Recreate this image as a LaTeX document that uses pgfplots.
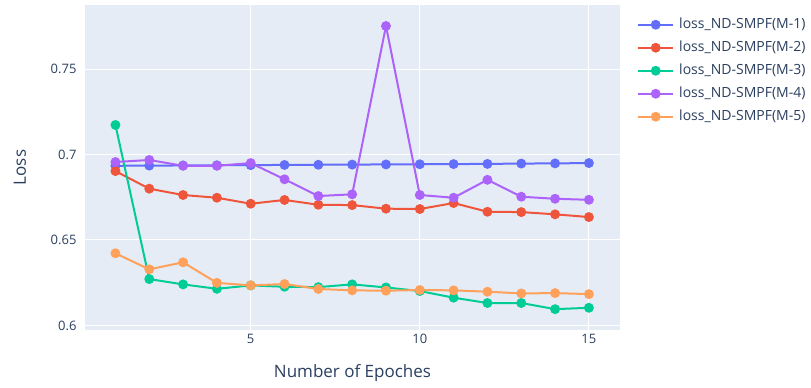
\documentclass[border=0pt]{standalone}
\usepackage{fontspec}
\setmainfont{Open Sans}
\usepackage{pgfplots}
\pgfplotsset{compat=1.18}

\definecolor{bgpanel}{HTML}{E5ECF6}
\definecolor{txt}{HTML}{2A3F5F}
\definecolor{cA}{HTML}{636EFA}
\definecolor{cB}{HTML}{EF553B}
\definecolor{cC}{HTML}{00CC96}
\definecolor{cD}{HTML}{AB63FA}
\definecolor{cE}{HTML}{FFA15A}

\pgfplotsset{
  lossline/.style={line width=2pt, mark=*, mark size=3.9pt, mark options={draw=none, fill=#1}, color=#1},
}

\begin{document}
\begin{tikzpicture}[x=1pt,y=1pt]
\path[use as bounding box] (0,0) rectangle (811,388);
\begin{axis}[
  at={(85pt,58pt)}, anchor=south west,
  width=535pt, height=325pt, scale only axis,
  xmin=0.1, xmax=15.92, ymin=0.5973, ymax=0.7875,
  axis background/.style={fill=bgpanel},
  axis line style={draw=none},
  tick style={draw=none},
  grid=major,
  major grid style={white, line width=1pt},
  xtick={5,10,15},
  ytick={0.6,0.65,0.7,0.75},
  yticklabels={0.6,0.65,0.7,0.75},
  /pgf/number format/assume math mode=true,
  ticklabel style={font=\fontsize{13}{15}\selectfont, text=txt},
  yticklabel style={xshift=-5pt},
  xticklabel style={yshift=-1pt},
  xlabel={Number of Epoches},
  ylabel={Loss},
  label style={font=\fontsize{17}{19}\selectfont, text=txt},
  xlabel style={at={(axis description cs:0.5,0)}, anchor=center, yshift=-43pt},
  ylabel style={at={(axis description cs:-0.1215,0.5)}, anchor=center},
  legend cell align=left,
  legend style={
    at={(axis description cs:1.0318,0.966)}, anchor=north west,
    draw=none, fill=none, inner sep=0pt,
    font=\fontsize{14}{16}\selectfont, text=txt,
    nodes={text height=10pt, text depth=3pt, inner ysep=2pt, inner xsep=2pt},
    row sep=6pt,
    /tikz/every odd column/.append style={column sep=3pt},
    /tikz/every even column/.append style={column sep=0pt},
  },
  legend image code/.code={
    \draw[line width=2pt] (0pt,0pt) -- (35pt,0pt);
    \fill (17.5pt,0pt) circle (3.9pt);
  },
]
\addplot[lossline=cA] coordinates {
  (1,0.6934) (2,0.6935) (3,0.6936) (4,0.6937) (5,0.6938) (6,0.6939) (7,0.6940)
  (8,0.6941) (9,0.6942) (10,0.6943) (11,0.6944) (12,0.6945) (13,0.6947) (14,0.6948) (15,0.6950)
};
\addlegendentry{loss\_ND-SMPF(M-1)}
\addplot[lossline=cB] coordinates {
  (1,0.6903) (2,0.6800) (3,0.6763) (4,0.6747) (5,0.6712) (6,0.6734) (7,0.6706)
  (8,0.6704) (9,0.6683) (10,0.6681) (11,0.6716) (12,0.6665) (13,0.6663) (14,0.6650) (15,0.6634)
};
\addlegendentry{loss\_ND-SMPF(M-2)}
\addplot[lossline=cC] coordinates {
  (1,0.7173) (2,0.6271) (3,0.6240) (4,0.6214) (5,0.6234) (6,0.6226) (7,0.6224)
  (8,0.6240) (9,0.6222) (10,0.6201) (11,0.6162) (12,0.6131) (13,0.6131) (14,0.6095) (15,0.6103)
};
\addlegendentry{loss\_ND-SMPF(M-3)}
\addplot[lossline=cD] coordinates {
  (1,0.6956) (2,0.6968) (3,0.6934) (4,0.6934) (5,0.6950) (6,0.6855) (7,0.6757)
  (8,0.6767) (9,0.7752) (10,0.6763) (11,0.6747) (12,0.6852) (13,0.6753) (14,0.6741) (15,0.6735)
};
\addlegendentry{loss\_ND-SMPF(M-4)}
\addplot[lossline=cE] coordinates {
  (1,0.6422) (2,0.6328) (3,0.6369) (4,0.6249) (5,0.6234) (6,0.6242) (7,0.6213)
  (8,0.6205) (9,0.6203) (10,0.6207) (11,0.6205) (12,0.6197) (13,0.6187) (14,0.6189) (15,0.6183)
};
\addlegendentry{loss\_ND-SMPF(M-5)}
\end{axis}
\end{tikzpicture}
\end{document}
